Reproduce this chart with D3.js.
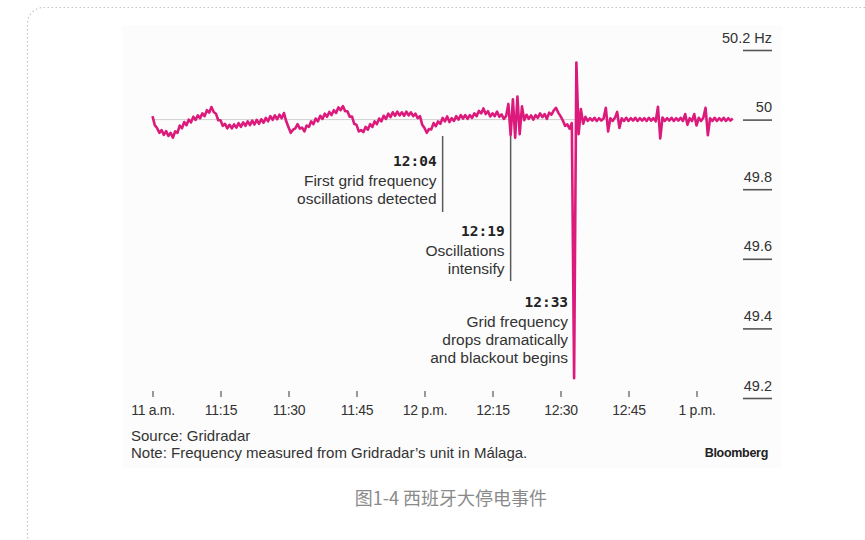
<!DOCTYPE html>
<html>
<head>
<meta charset="utf-8">
<script src="https://cdn.jsdelivr.net/npm/d3@7"></script>
<style>
  html, body { margin: 0; padding: 0; background: #ffffff; }
  svg { display: block; }
  text { font-family: "Liberation Sans", Arial, sans-serif; }
</style>
</head>
<body>
<svg id="chart" width="865" height="540"></svg>
<script>
// Grid frequency in Málaga, 11:00 to ~13:08 on the day of the Iberian blackout
const startTime = new Date(2025, 3, 28, 11, 0);
const sampleStepMinutes = 0.5;
const frequencyHz = [
  50.010, 49.984, 49.976, 49.962, 49.970, 49.956, 49.967, 49.953, 49.962, 49.948,
  49.966, 49.962, 49.983, 49.975, 49.993, 49.984, 50.000, 49.992, 50.008, 49.999,
  50.012, 50.004, 50.018, 50.010, 50.027, 50.020, 50.036, 50.022, 50.017, 49.998,
  49.998, 49.982, 49.988, 49.975, 49.985, 49.975, 49.986, 49.977, 49.990, 49.979,
  49.992, 49.982, 49.995, 49.984, 49.997, 49.986, 49.999, 49.988, 50.001, 49.991,
  50.005, 49.995, 50.010, 49.999, 50.012, 50.001, 50.014, 50.004, 50.019, 49.995,
  49.978, 49.962, 49.971, 49.975, 49.987, 49.974, 49.977, 49.966, 49.983, 49.979,
  49.995, 49.987, 50.003, 49.995, 50.011, 50.002, 50.017, 50.008, 50.022, 50.013,
  50.027, 50.019, 50.035, 50.027, 50.039, 50.024, 50.024, 50.008, 50.009, 49.988,
  49.985, 49.966, 49.970, 49.964, 49.979, 49.971, 49.987, 49.979, 49.995, 49.987,
  50.003, 49.995, 50.011, 50.002, 50.017, 50.007, 50.021, 50.011, 50.023, 50.012,
  50.021, 50.011, 50.023, 50.012, 50.021, 50.010, 50.017, 50.004, 50.010, 49.985,
  49.976, 49.962, 49.973, 49.972, 49.990, 49.981, 49.995, 49.988, 50.005, 49.995,
  50.009, 49.993, 50.004, 49.996, 50.010, 50.000, 50.013, 50.003, 50.013, 50.002,
  50.013, 50.005, 50.018, 50.010, 50.025, 50.018, 50.032, 50.016, 50.024, 50.009,
  50.018, 50.010, 50.023, 50.008, 50.015, 50.002, 50.010, 50.045, 49.955, 50.058,
  49.948, 50.066, 49.958, 50.038, 49.998, 50.014, 50.002, 50.012, 50.000, 50.013,
  50.005, 50.018, 50.007, 50.016, 50.002, 50.020, 50.014, 50.026, 50.034, 50.020,
  50.010, 49.998, 49.982, 49.986, 49.974, 49.990, 49.257, 50.164, 49.958, 50.030,
  49.988, 50.008, 49.996, 50.004, 49.997, 50.005, 49.996, 50.004, 49.997, 50.003,
  50.034, 49.966, 50.004, 49.996, 50.005, 50.022, 49.976, 50.004, 49.996, 50.005,
  49.996, 50.004, 49.997, 50.005, 49.996, 50.004, 49.997, 50.004, 49.996, 50.005,
  49.997, 50.004, 49.995, 50.037, 49.946, 50.006, 49.996, 50.004, 49.997, 50.005,
  49.996, 50.004, 49.997, 50.005, 49.996, 50.016, 49.985, 50.004, 49.996, 50.016,
  49.983, 50.005, 49.996, 50.005, 50.034, 49.955, 50.004, 49.996, 50.005, 49.996,
  50.004, 49.997, 50.005, 49.996, 50.004, 49.997, 50.003
];

// Axis ticks
const xTickMinutes = [0, 15, 30, 45, 60, 75, 90, 105, 120];
const xTickLabels = ["11 a.m.", "11:15", "11:30", "11:45", "12 p.m.", "12:15", "12:30", "12:45", "1 p.m."];
const yTickValues = [49.2, 49.4, 49.6, 49.8, 50, 50.2];
const yTickLabels = ["49.2", "49.4", "49.6", "49.8", "50", "50.2 Hz"];

// Event annotations
const eventMinutes = [64, 79, 93];
const eventTimes = ["12:04", "12:19", "12:33"];
const eventLines = [
  ["First grid frequency", "oscillations detected"],
  ["Oscillations", "intensify"],
  ["Grid frequency", "drops dramatically", "and blackout begins"]
];

const sourceText = "Source: Gridradar";
const noteText = "Note: Frequency measured from Gridradar\u2019s unit in M\u00e1laga.";
const brandText = "Bloomberg";
const captionText = "图1-4 西班牙大停电事件";

const addMinutes = m => new Date(startTime.getTime() + m * 60000);
const series = frequencyHz.map((v, i) => ({ t: addMinutes(i * sampleStepMinutes), v }));

const svg = d3.select("#chart");

// Outer dotted frame
svg.append("rect")
  .attr("x", 27.5).attr("y", 7.5)
  .attr("width", 900).attr("height", 600)
  .attr("rx", 16)
  .attr("fill", "none")
  .attr("stroke", "#c4c4c4")
  .attr("stroke-width", 1.2)
  .attr("stroke-dasharray", "1.5,2.5");

// Chart panel
svg.append("rect")
  .attr("x", 122).attr("y", 25)
  .attr("width", 660).attr("height", 443)
  .attr("fill", "#fcfcfc");

const x = d3.scaleTime()
  .domain([startTime, addMinutes(120)])
  .range([152.5, 696.5]);

const y = d3.scaleLinear()
  .domain([49.2, 50.2])
  .range([398, 50]);

// 50 Hz reference line
svg.append("line")
  .attr("x1", x(startTime)).attr("x2", x(addMinutes(128)))
  .attr("y1", y(50)).attr("y2", y(50))
  .attr("stroke", "#cfcfcf")
  .attr("stroke-width", 1);

// Y axis: short rules on the right with labels sitting above them
const yAxis = d3.axisLeft(y)
  .tickValues(yTickValues)
  .tickSize(29)
  .tickFormat((d, i) => yTickLabels[i]);

const gy = svg.append("g")
  .attr("transform", "translate(772,0)")
  .call(yAxis);
gy.select(".domain").remove();
gy.selectAll(".tick line")
  .attr("stroke", "#555")
  .attr("stroke-width", 1.6);
gy.selectAll(".tick text")
  .attr("x", 0)
  .attr("dy", "-0.55em")
  .attr("text-anchor", "end")
  .attr("fill", "#333")
  .style("font-size", "14.5px")
  .style("font-family", "'Liberation Sans', Arial, sans-serif");

// X axis
const xAxis = d3.axisBottom(x)
  .tickValues(xTickMinutes.map(addMinutes))
  .tickSize(6)
  .tickPadding(8)
  .tickFormat((d, i) => xTickLabels[i]);

const gx = svg.append("g")
  .attr("transform", "translate(0,391)")
  .call(xAxis);
gx.select(".domain").remove();
gx.selectAll(".tick line")
  .attr("stroke", "#555")
  .attr("stroke-width", 1.2);
gx.selectAll(".tick text")
  .attr("fill", "#333")
  .style("font-size", "14px")
  .style("letter-spacing", "-0.3px")
  .style("font-family", "'Liberation Sans', Arial, sans-serif");

// Annotation leader lines
const leaderTops = [136, 136, null];
const leaderBottoms = [212, 281, null];
eventMinutes.forEach((m, i) => {
  if (leaderTops[i] === null) return;
  svg.append("line")
    .attr("x1", x(addMinutes(m))).attr("x2", x(addMinutes(m)))
    .attr("y1", leaderTops[i]).attr("y2", leaderBottoms[i])
    .attr("stroke", "#5a5a5a")
    .attr("stroke-width", 1.5);
});

// Frequency trace
const line = d3.line()
  .x(d => x(d.t))
  .y(d => y(d.v));

svg.append("path")
  .datum(series)
  .attr("d", line)
  .attr("fill", "none")
  .attr("stroke", "#dc1a7c")
  .attr("stroke-width", 2.6)
  .attr("stroke-linejoin", "round");

// Annotation text
const labelTops = [166, 236, 307];
eventMinutes.forEach((m, i) => {
  const ax = x(addMinutes(m)) - 6;
  const g = svg.append("g");
  g.append("text")
    .attr("x", ax).attr("y", labelTops[i])
    .attr("text-anchor", "end")
    .attr("fill", "#222")
    .style("font-family", "'DejaVu Sans Mono', 'Liberation Mono', monospace")
    .style("font-weight", "bold")
    .style("font-size", "14.5px")
    .text(eventTimes[i]);
  eventLines[i].forEach((t, j) => {
    g.append("text")
      .attr("x", ax).attr("y", labelTops[i] + 19.5 + j * 18)
      .attr("text-anchor", "end")
      .attr("fill", "#333")
      .style("font-size", "15.5px")
      .text(t);
  });
});

// Footer
svg.append("text")
  .attr("x", 131).attr("y", 441)
  .attr("fill", "#333")
  .style("font-size", "15px")
  .text(sourceText);
svg.append("text")
  .attr("x", 131).attr("y", 458)
  .attr("fill", "#333")
  .style("font-size", "15px")
  .text(noteText);
svg.append("text")
  .attr("x", 768).attr("y", 457)
  .attr("text-anchor", "end")
  .attr("fill", "#222")
  .style("font-size", "12.5px")
  .style("font-weight", "bold")
  .style("letter-spacing", "-0.3px")
  .text(brandText);

// Caption
svg.append("text")
  .attr("x", 451).attr("y", 505)
  .attr("text-anchor", "middle")
  .attr("fill", "#8a8a8a")
  .style("font-family", "'Noto Sans CJK SC', 'Noto Sans', sans-serif")
  .style("font-size", "18px")
  .text(captionText);
</script>
</body>
</html>
